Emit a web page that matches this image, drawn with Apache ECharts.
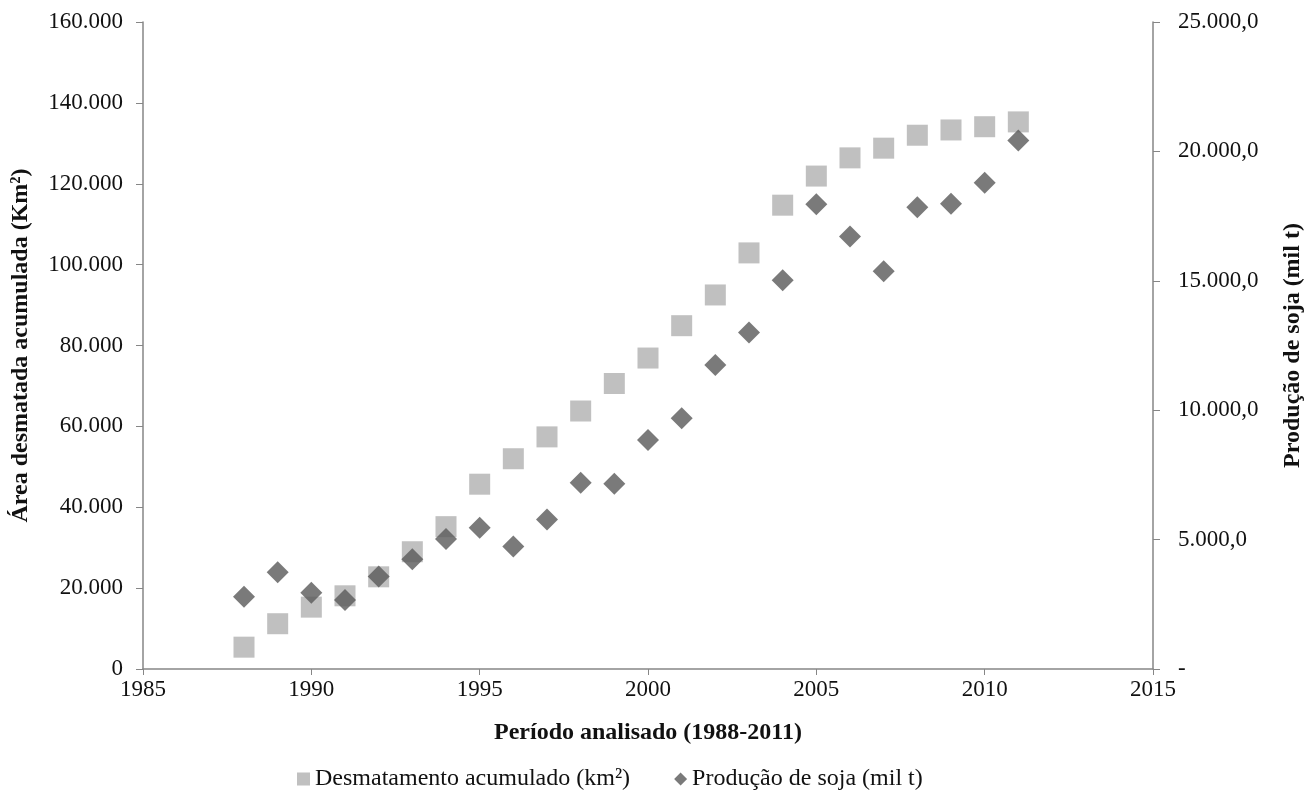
<!DOCTYPE html>
<html>
<head>
<meta charset="utf-8">
<script src="https://cdn.jsdelivr.net/npm/echarts@6/dist/echarts.min.js"></script>
<style>
html,body{margin:0;padding:0;background:#fff;}
#chart{width:1306px;height:804px;}
</style>
</head>
<body>
<div id="chart"></div>
<script>
const years = [1988,1989,1990,1991,1992,1993,1994,1995,1996,1997,1998,1999,2000,2001,2002,2003,2004,2005,2006,2007,2008,2009,2010,2011];
const desmatamento = [5400,11200,15300,18100,22800,29000,35200,45700,52000,57400,63800,70600,76900,84900,92500,102900,114700,121900,126400,128800,132000,133300,134100,135300];
const soja = [2790,3740,2950,2670,3570,4240,5020,5460,4730,5780,7200,7160,8850,9690,11750,13000,15020,17960,16710,15370,17840,17980,18790,20420];
const seriesNames = ['Desmatamento acumulado (km²)', 'Produção de soja (mil t)'];

function thousands(v){ return String(Math.round(v)).replace(/\B(?=(\d{3})+(?!\d))/g, '.'); }

const font = 'Liberation Serif';
const axisGray = '#868686';
const tickSize = 23;
const titleSize = 24;

const chart = echarts.init(document.getElementById('chart'));
chart.setOption({
  backgroundColor: '#ffffff',
  animation: false,
  textStyle: { fontFamily: font },
  grid: { left: 143, right: 153, top: 22, bottom: 135, containLabel: false, outerBoundsMode: 'none' },
  legend: {
    bottom: 8,
    left: 292,
    itemGap: 44,
    itemWidth: 13,
    itemHeight: 13,
    textStyle: { fontFamily: font, fontSize: 24, color: '#111' },
    data: [
      { name: seriesNames[0], icon: 'rect' },
      { name: seriesNames[1], icon: 'diamond' }
    ]
  },
  xAxis: {
    type: 'value',
    min: 1985, max: 2015, interval: 5,
    name: 'Período analisado (1988-2011)',
    nameLocation: 'middle',
    nameGap: 52,
    nameTextStyle: { fontFamily: font, fontSize: titleSize, fontWeight: 'bold', color: '#111' },
    axisLine: { show: true, onZero: false, lineStyle: { color: axisGray, width: 1.5 } },
    axisTick: { show: true, length: 6, lineStyle: { color: axisGray } },
    axisLabel: { fontFamily: font, fontSize: tickSize, color: '#111', margin: 9, formatter: v => String(v) },
    splitLine: { show: false }
  },
  yAxis: [
    {
      type: 'value',
      min: 0, max: 160000, interval: 20000,
      name: 'Área desmatada acumulada (Km²)',
      nameLocation: 'middle',
      nameRotate: 90,
      nameGap: 110,
      nameTextStyle: { fontFamily: font, fontSize: titleSize, fontWeight: 'bold', color: '#111' },
      axisLine: { show: true, lineStyle: { color: axisGray, width: 1.5 } },
      axisTick: { show: true, length: 7, lineStyle: { color: axisGray } },
      axisLabel: { fontFamily: font, fontSize: tickSize, color: '#111', margin: 20, formatter: v => thousands(v) },
      splitLine: { show: false }
    },
    {
      type: 'value',
      position: 'right',
      min: 0, max: 25000, interval: 5000,
      name: 'Produção de soja (mil t)',
      nameLocation: 'middle',
      nameRotate: 90,
      nameGap: 128,
      nameTextStyle: { fontFamily: font, fontSize: titleSize, fontWeight: 'bold', color: '#111' },
      axisLine: { show: true, lineStyle: { color: axisGray, width: 1.5 } },
      axisTick: { show: true, length: 7, lineStyle: { color: axisGray } },
      axisLabel: { fontFamily: font, fontSize: tickSize, color: '#111', margin: 25,
        formatter: v => v === 0 ? '-' : thousands(v) + ',0' },
      splitLine: { show: false }
    }
  ],
  series: [
    {
      name: seriesNames[0],
      type: 'scatter',
      yAxisIndex: 0,
      symbol: 'rect',
      symbolSize: 21,
      itemStyle: { color: '#b0b0b0' },
      data: years.map((y, i) => [y, desmatamento[i]])
    },
    {
      name: seriesNames[1],
      type: 'scatter',
      yAxisIndex: 1,
      symbol: 'diamond',
      symbolSize: 22,
      itemStyle: { color: '#595959' },
      data: years.map((y, i) => [y, soja[i]])
    }
  ]
});
</script>
</body>
</html>
